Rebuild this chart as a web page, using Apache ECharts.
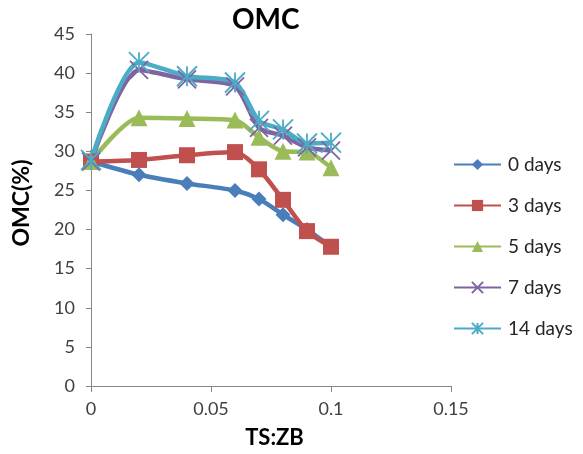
<!DOCTYPE html>
<html>
<head>
<meta charset="utf-8">
<script src="https://cdn.jsdelivr.net/npm/echarts@6/dist/echarts.min.js"></script>
<style>html,body{margin:0;padding:0;background:#fff}#c{width:583px;height:454px}</style>
</head>
<body>
<div id="c"></div>
<script>
const xValues = [0, 0.02, 0.04, 0.06, 0.07, 0.08, 0.09, 0.1];
const seriesNames = ['0 days', '3 days', '5 days', '7 days', '14 days'];
const days0 = [28.7, 27.0, 25.9, 25.0, 23.9, 21.9, 20.0, 17.8];
const days3 = [28.7, 28.9, 29.5, 29.9, 27.7, 23.8, 19.8, 17.8];
const days5 = [28.7, 34.3, 34.2, 34.0, 31.8, 30.0, 29.9, 27.9];
const days7 = [28.7, 40.4, 39.2, 38.3, 33.0, 32.0, 30.5, 30.1];
const days14 = [28.9, 41.4, 39.6, 38.8, 33.9, 32.8, 31.0, 31.1];
const xTicks = ['0', '0.05', '0.1', '0.15'];

const allValues = [days0, days3, days5, days7, days14];
const colors = ['#4A7EBB', '#C0504D', '#9BBB59', '#8064A2', '#4BACC6'];
const symbols = ['diamond', 'rect', 'triangle',
  'path://M0,0L20,20M20,0L0,20',
  'path://M0,0L20,20M20,0L0,20M10,0L10,20'];
const symbolSizes = [15, 16, 17, 18, 20];
const FONT = 'Lato, "Open Sans", sans-serif';

const chart = echarts.init(document.getElementById('c'), null, {renderer: 'canvas'});
const series = seriesNames.map((name, i) => ({
  name: name,
  type: 'line',
  smooth: 0.25,
  data: xValues.map((x, j) => [x, allValues[i][j]]),
  symbol: symbols[i],
  symbolSize: symbolSizes[i],
  showAllSymbol: true,
  color: colors[i],
  lineStyle: {width: 4.5, color: colors[i]},
  itemStyle: i >= 3 ? {color: colors[i], borderColor: colors[i], borderWidth: 1.8}
                    : {color: colors[i], borderWidth: 0},
  emphasis: {disabled: true},
  animation: false
}));

chart.setOption({
  animation: false,
  backgroundColor: '#fff',
  textStyle: {fontFamily: FONT},
  title: {
    text: 'OMC', left: 227, top: 1,
    textStyle: {fontFamily: FONT, fontSize: 28, fontWeight: 'bold', color: '#000'}
  },
  grid: {left: 91, right: 132, top: 34, bottom: 67, containLabel: false},
  xAxis: {
    type: 'value', min: 0, max: 0.15, interval: 0.05,
    name: 'TS:ZB', nameLocation: 'middle', nameGap: 41,
    nameTextStyle: {fontFamily: FONT, fontSize: 22, fontWeight: 'bold', color: '#000', padding: [0, 0, 0, 7]},
    axisLine: {show: true, lineStyle: {color: '#868686', width: 1}},
    axisTick: {show: true, length: 6, lineStyle: {color: '#868686'}},
    axisLabel: {
      fontFamily: FONT, fontSize: 18, color: '#404040', margin: 14,
      formatter: (v) => { const k = Math.round(v / 0.05); return xTicks[k] !== undefined ? xTicks[k] : ''; }
    },
    splitLine: {show: false}
  },
  yAxis: {
    type: 'value', min: 0, max: 45, interval: 5,
    name: 'OMC(%)', nameLocation: 'middle', nameGap: 58, nameRotate: 90,
    nameTextStyle: {fontFamily: FONT, fontSize: 23, fontWeight: 'bold', color: '#000', padding: [0, 0, 0, 14]},
    axisLine: {show: true, lineStyle: {color: '#868686', width: 1}},
    axisTick: {show: true, length: 5, lineStyle: {color: '#868686'}},
    axisLabel: {fontFamily: FONT, fontSize: 18, color: '#404040', margin: 16},
    splitLine: {show: false}
  },
  legend: {
    orient: 'vertical', left: 448, top: 150,
    itemWidth: 47, itemHeight: 14, itemGap: 22,
    textStyle: {fontFamily: FONT, fontSize: 19, color: '#262626', padding: [0, 0, 0, 2]},
    data: seriesNames
  },
  series: series
});
</script>
</body>
</html>
